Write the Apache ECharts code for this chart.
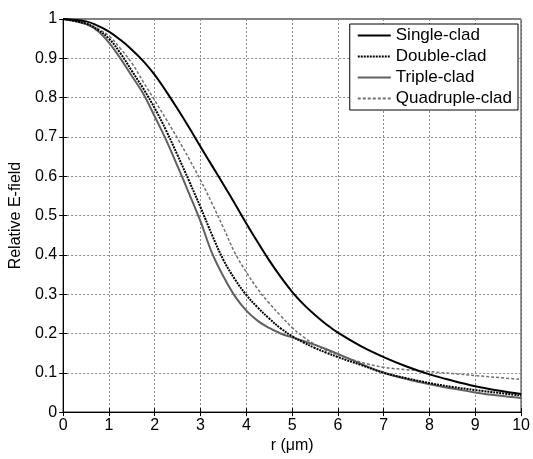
<!DOCTYPE html>
<html>
<head>
<meta charset="utf-8">
<script src="https://cdn.jsdelivr.net/npm/echarts@6/dist/echarts.min.js"></script>
<style>
  html, body { margin: 0; padding: 0; background: #fff; }
  #main { width: 533px; height: 459px; }
</style>
</head>
<body>
<div id="main"></div>
<script>
// r positions (um), shared by all curves
var rValues = [0, 0.5, 0.75, 1, 1.25, 1.5, 1.75, 2, 2.25, 2.5, 2.75, 3, 3.25, 3.5, 3.75, 4, 4.25, 4.5, 4.75, 5, 5.25, 5.5, 5.75, 6, 6.5, 7, 7.5, 8, 8.5, 9, 9.5, 10];
var singleClad = [1, 0.994, 0.983, 0.968, 0.947, 0.922, 0.893, 0.858, 0.816, 0.771, 0.724, 0.675, 0.627, 0.579, 0.53, 0.48, 0.432, 0.386, 0.344, 0.306, 0.274, 0.247, 0.223, 0.202, 0.168, 0.14, 0.116, 0.096, 0.08, 0.066, 0.055, 0.046];
var doubleClad = [1, 0.988, 0.973, 0.95, 0.913, 0.868, 0.823, 0.773, 0.716, 0.653, 0.588, 0.521, 0.451, 0.387, 0.338, 0.298, 0.266, 0.238, 0.213, 0.193, 0.177, 0.163, 0.151, 0.14, 0.12, 0.1, 0.086, 0.074, 0.064, 0.056, 0.049, 0.042];
var tripleClad = [1, 0.987, 0.97, 0.94, 0.9, 0.855, 0.81, 0.752, 0.692, 0.625, 0.556, 0.485, 0.405, 0.345, 0.295, 0.258, 0.232, 0.214, 0.2, 0.19, 0.181, 0.171, 0.16, 0.148, 0.123, 0.1, 0.084, 0.071, 0.06, 0.05, 0.042, 0.036];
var quadClad = [1, 0.989, 0.976, 0.957, 0.925, 0.888, 0.84, 0.793, 0.745, 0.696, 0.644, 0.59, 0.531, 0.469, 0.405, 0.356, 0.313, 0.277, 0.245, 0.215, 0.191, 0.172, 0.157, 0.146, 0.127, 0.114, 0.108, 0.103, 0.098, 0.093, 0.088, 0.083];
var seriesNames = ['Single-clad', 'Double-clad', 'Triple-clad', 'Quadruple-clad'];

function pairs(ys) {
    var out = [];
    for (var i = 0; i < rValues.length; i++) {
        out.push([rValues[i], ys[i]]);
    }
    return out;
}

var myChart = echarts.init(document.getElementById('main'));
var font = 'Liberation Sans, Arial, sans-serif';
var gridLine = { show: true, lineStyle: { color: '#8a8a8a', type: [2, 2], width: 1 } };
var tick = { show: true, inside: true, length: 4, lineStyle: { color: '#000' } };

var option = {
    animation: false,
    backgroundColor: '#fff',
    textStyle: { fontFamily: font, color: '#000' },
    grid: {
        left: 62, right: 10, top: 19, bottom: 40,
        show: true, borderColor: '#000', borderWidth: 1
    },
    legend: {
        orient: 'vertical',
        right: 15, top: 24,
        padding: [3, 6, 3, 7],
        itemGap: 4,
        itemWidth: 33,
        itemHeight: 15,
        backgroundColor: '#fff',
        borderColor: '#000',
        borderWidth: 1,
        borderRadius: 0,
        itemStyle: { opacity: 0 },
        textStyle: { fontFamily: font, fontSize: 17, color: '#000' },
        data: seriesNames
    },
    xAxis: [{
        type: 'value', min: 0, max: 10, interval: 1,
        name: 'r (\u03bcm)', nameLocation: 'middle', nameGap: 19,
        nameTextStyle: { fontFamily: font, fontSize: 16, color: '#000' },
        axisLine: { show: true, onZero: false, lineStyle: { color: '#000' } },
        axisTick: tick,
        axisLabel: { fontFamily: font, fontSize: 16, color: '#000', margin: 5 },
        splitLine: gridLine
    }, {
        type: 'value', min: 0, max: 10, interval: 1, position: 'top',
        axisLine: { show: true, lineStyle: { color: '#000' } },
        axisTick: tick,
        axisLabel: { show: false },
        splitLine: { show: false }
    }],
    yAxis: [{
        type: 'value', min: 0, max: 1, interval: 0.1,
        name: 'Relative E-field', nameLocation: 'middle', nameGap: 34,
        nameTextStyle: { fontFamily: font, fontSize: 16, color: '#000' },
        axisLine: { show: true, onZero: false, lineStyle: { color: '#000' } },
        axisTick: tick,
        axisLabel: { fontFamily: font, fontSize: 16, color: '#000', margin: 6 },
        splitLine: gridLine
    }, {
        type: 'value', min: 0, max: 1, interval: 0.1, position: 'right',
        axisLine: { show: true, lineStyle: { color: '#000' } },
        axisTick: tick,
        axisLabel: { show: false },
        splitLine: { show: false }
    }],
    series: [{
        name: seriesNames[0], type: 'line', data: pairs(singleClad),
        smooth: 0.4, symbol: 'none', color: '#000',
        lineStyle: { color: '#000', width: 2, type: 'solid' }, z: 5
    }, {
        name: seriesNames[1], type: 'line', data: pairs(doubleClad),
        smooth: 0.4, symbol: 'none', color: '#000',
        lineStyle: { color: '#000', width: 2, type: [2, 1] }, z: 4
    }, {
        name: seriesNames[2], type: 'line', data: pairs(tripleClad),
        smooth: 0.4, symbol: 'none', color: '#606060',
        lineStyle: { color: '#606060', width: 2, type: 'solid' }, z: 3
    }, {
        name: seriesNames[3], type: 'line', data: pairs(quadClad),
        smooth: 0.4, symbol: 'none', color: '#707070',
        lineStyle: { color: '#707070', width: 1.5, type: [3, 2] }, z: 2
    }]
};

myChart.setOption(option);
</script>
</body>
</html>
